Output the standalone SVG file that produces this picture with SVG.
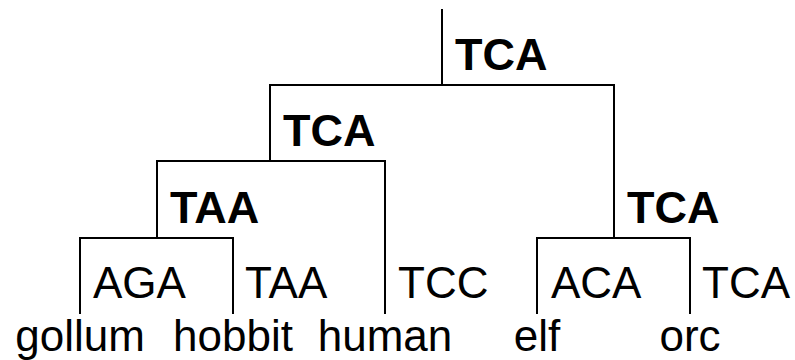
<svg xmlns="http://www.w3.org/2000/svg" width="795" height="360" viewBox="0 0 795 360">
<style>
.e{stroke:#000;stroke-width:2;fill:none;stroke-linecap:square}
.b{font-family:"Liberation Sans",Arial,sans-serif;font-weight:bold;font-size:45px;fill:#000}
.r{font-family:"Liberation Sans",Arial,sans-serif;font-size:44px;fill:#000}
.l{font-family:"Liberation Sans",Arial,sans-serif;font-size:44px;fill:#000;text-anchor:middle}
</style>
<rect width="795" height="360" fill="#fff"/>
<g id="connectors">
<path class="e" d="M442 10V85M270 85H614M270 85V161M157 161H385M157 161V238M80 238H233M80 238V313M233 238V313M385 161V313M614 85V238M537 238H690M537 238V313M690 238V313"/>
</g>
<g id="root"><text class="b" x="455" y="70">TCA</text></g>
<g id="n1"><text class="b" x="283" y="146">TCA</text></g>
<g id="n2"><text class="b" x="170" y="223">TAA</text></g>
<g id="n3"><text class="b" x="627" y="223">TCA</text></g>
<g id="gollum"><text class="r" x="93" y="298">AGA</text><text class="l" x="80" y="351">gollum</text></g>
<g id="hobbit"><text class="r" x="245" y="298">TAA</text><text class="l" x="233" y="351">hobbit</text></g>
<g id="human"><text class="r" x="398" y="298">TCC</text><text class="l" x="385" y="351">human</text></g>
<g id="elf"><text class="r" x="551" y="298">ACA</text><text class="l" x="537" y="351">elf</text></g>
<g id="orc"><text class="r" x="702" y="298">TCA</text><text class="l" x="690" y="351">orc</text></g>
</svg>
